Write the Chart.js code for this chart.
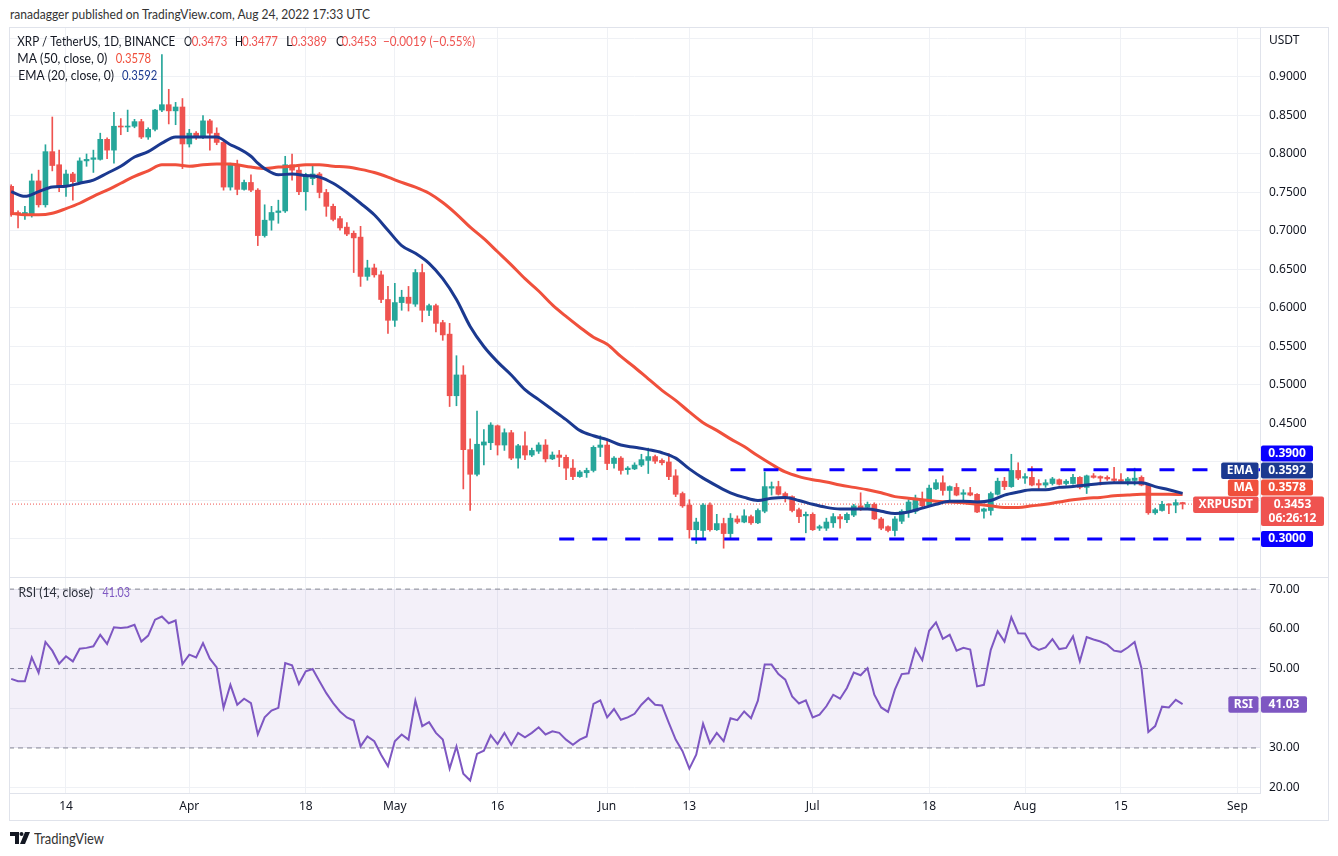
<!DOCTYPE html>
<html>
<head>
<meta charset="utf-8">
<title>XRP / TetherUS, 1D</title>
<script src="https://cdn.jsdelivr.net/npm/chart.js@4.4.1/dist/chart.umd.min.js"></script>
<style>
  html, body { margin: 0; padding: 0; background: #fff; }
  body { width: 1338px; height: 856px; position: relative; overflow: hidden; font-family: Lato, sans-serif; }
  .header { position: absolute; left: 10px; top: 6px; font-size: 13px; color: #333; white-space: nowrap; transform-origin: 0 0; }
  .pane { position: absolute; left: 9px; width: 1319px; }
  #pricePane { top: 27px; height: 550px; }
  #rsiPane { top: 577px; height: 243px; }
  .sep { position: absolute; left: 9px; top: 577px; width: 1319px; height: 1px; background: #e0e3eb; }
  .frame { position: absolute; left: 9px; top: 27px; width: 1320px; height: 794px; border: 1px solid #e0e3eb; box-sizing: border-box; pointer-events: none; }
  .brand { position: absolute; left: 10px; top: 829px; font-size: 15px; color: #333; display: flex; align-items: center; gap: 3px; }
  .brand span { display: inline-block; transform-origin: 0 50%; white-space: nowrap; }
</style>
</head>
<body>
<div class="header" id="header">ranadagger published on TradingView.com, Aug 24, 2022 17:33 UTC</div>
<div class="pane" id="pricePane"><canvas id="priceCanvas"></canvas></div>
<div class="pane" id="rsiPane"><canvas id="rsiCanvas"></canvas></div>
<div class="sep"></div>
<div class="frame"></div>
<div class="brand">
  <svg width="21" height="12" viewBox="0 0 21 12"><path d="M0 0h9v12h-4v-8h-5z" fill="#131722"/><circle cx="11.5" cy="2" r="2" fill="#131722"/><path d="M15 0h5l-5 12h-5z" fill="#131722"/></svg>
  <span id="brandText">TradingView</span>
</div>
<script>
// daily candles from 2022-03-06 (index 0) to 2022-08-24 (index 171)
const startDate = '2022-03-06';
const opens = [
  0.758, 0.724, 0.721, 0.721, 0.765, 0.734, 0.803, 0.786, 0.758, 0.774,
  0.764, 0.791, 0.793, 0.793, 0.819, 0.805, 0.836, 0.835, 0.836, 0.842,
  0.822, 0.832, 0.857, 0.864, 0.856, 0.861, 0.813, 0.827, 0.822, 0.843,
  0.827, 0.815, 0.757, 0.786, 0.754, 0.763, 0.753, 0.694, 0.714, 0.724,
  0.726, 0.786, 0.779, 0.751, 0.768, 0.774, 0.750, 0.732, 0.716, 0.705,
  0.697, 0.692, 0.641, 0.652, 0.643, 0.611, 0.584, 0.607, 0.614, 0.605,
  0.646, 0.597, 0.603, 0.581, 0.566, 0.486, 0.513, 0.416, 0.384, 0.422,
  0.425, 0.447, 0.422, 0.438, 0.405, 0.421, 0.409, 0.414, 0.422, 0.404,
  0.409, 0.406, 0.392, 0.381, 0.386, 0.389, 0.419, 0.422, 0.398, 0.405,
  0.390, 0.391, 0.396, 0.402, 0.407, 0.402, 0.400, 0.382, 0.359, 0.344,
  0.312, 0.311, 0.344, 0.312, 0.320, 0.307, 0.326, 0.322, 0.329, 0.321,
  0.336, 0.366, 0.368, 0.359, 0.355, 0.338, 0.330, 0.332, 0.314, 0.314,
  0.321, 0.329, 0.325, 0.331, 0.343, 0.341, 0.345, 0.326, 0.316, 0.311,
  0.323, 0.335, 0.336, 0.351, 0.344, 0.365, 0.373, 0.363, 0.367, 0.358,
  0.360, 0.358, 0.336, 0.337, 0.358, 0.375, 0.368, 0.389, 0.379, 0.380,
  0.372, 0.370, 0.372, 0.377, 0.372, 0.372, 0.380, 0.367, 0.382, 0.381,
  0.380, 0.378, 0.377, 0.375, 0.376, 0.380, 0.370, 0.334, 0.337, 0.345,
  0.344, 0.3473
];
const highs = [
  0.760, 0.726, 0.732, 0.774, 0.779, 0.812, 0.848, 0.805, 0.779, 0.776,
  0.795, 0.800, 0.805, 0.827, 0.821, 0.854, 0.846, 0.857, 0.845, 0.845,
  0.834, 0.858, 0.929, 0.884, 0.867, 0.872, 0.832, 0.829, 0.850, 0.845,
  0.834, 0.817, 0.788, 0.792, 0.766, 0.773, 0.755, 0.734, 0.732, 0.740,
  0.797, 0.800, 0.783, 0.775, 0.786, 0.776, 0.754, 0.735, 0.719, 0.711,
  0.700, 0.706, 0.662, 0.657, 0.648, 0.628, 0.632, 0.623, 0.628, 0.650,
  0.657, 0.605, 0.605, 0.584, 0.580, 0.538, 0.525, 0.430, 0.466, 0.442,
  0.451, 0.448, 0.443, 0.441, 0.423, 0.439, 0.418, 0.425, 0.429, 0.413,
  0.415, 0.409, 0.403, 0.389, 0.392, 0.421, 0.434, 0.428, 0.407, 0.407,
  0.394, 0.399, 0.410, 0.418, 0.409, 0.404, 0.411, 0.390, 0.361, 0.351,
  0.327, 0.346, 0.347, 0.332, 0.327, 0.333, 0.330, 0.338, 0.331, 0.339,
  0.387, 0.374, 0.375, 0.361, 0.356, 0.340, 0.335, 0.334, 0.318, 0.327,
  0.333, 0.332, 0.334, 0.345, 0.360, 0.348, 0.347, 0.328, 0.317, 0.329,
  0.338, 0.351, 0.357, 0.361, 0.370, 0.377, 0.382, 0.369, 0.372, 0.364,
  0.367, 0.359, 0.340, 0.361, 0.379, 0.380, 0.410, 0.399, 0.385, 0.394,
  0.377, 0.377, 0.380, 0.378, 0.377, 0.384, 0.381, 0.383, 0.385, 0.382,
  0.382, 0.393, 0.385, 0.380, 0.392, 0.382, 0.371, 0.340, 0.349, 0.346,
  0.351, 0.3477
];
const lows = [
  0.719, 0.704, 0.715, 0.718, 0.731, 0.731, 0.778, 0.751, 0.745, 0.740,
  0.762, 0.784, 0.776, 0.792, 0.794, 0.788, 0.825, 0.829, 0.834, 0.820,
  0.819, 0.830, 0.855, 0.839, 0.838, 0.781, 0.809, 0.819, 0.820, 0.805,
  0.812, 0.753, 0.753, 0.747, 0.753, 0.751, 0.681, 0.692, 0.701, 0.710,
  0.724, 0.766, 0.747, 0.727, 0.760, 0.743, 0.719, 0.713, 0.701, 0.694,
  0.646, 0.628, 0.636, 0.640, 0.607, 0.567, 0.576, 0.597, 0.596, 0.602,
  0.582, 0.590, 0.569, 0.558, 0.472, 0.473, 0.365, 0.337, 0.382, 0.396,
  0.416, 0.409, 0.415, 0.403, 0.392, 0.403, 0.407, 0.411, 0.400, 0.403,
  0.394, 0.377, 0.377, 0.380, 0.380, 0.387, 0.407, 0.390, 0.392, 0.384,
  0.384, 0.390, 0.394, 0.385, 0.398, 0.396, 0.377, 0.355, 0.341, 0.301,
  0.294, 0.300, 0.310, 0.311, 0.288, 0.301, 0.320, 0.321, 0.319, 0.320,
  0.334, 0.357, 0.357, 0.348, 0.335, 0.321, 0.308, 0.311, 0.311, 0.311,
  0.315, 0.314, 0.321, 0.329, 0.337, 0.340, 0.325, 0.312, 0.309, 0.304,
  0.320, 0.328, 0.333, 0.342, 0.343, 0.364, 0.357, 0.351, 0.356, 0.351,
  0.356, 0.334, 0.327, 0.331, 0.357, 0.364, 0.367, 0.377, 0.372, 0.369,
  0.365, 0.367, 0.370, 0.370, 0.370, 0.371, 0.365, 0.359, 0.379, 0.370,
  0.376, 0.374, 0.373, 0.370, 0.370, 0.369, 0.332, 0.332, 0.336, 0.333,
  0.334, 0.3389
];
const closes = [
  0.721, 0.721, 0.724, 0.765, 0.734, 0.803, 0.785, 0.758, 0.774, 0.764,
  0.791, 0.793, 0.795, 0.819, 0.805, 0.836, 0.835, 0.836, 0.842, 0.822,
  0.832, 0.857, 0.864, 0.856, 0.861, 0.813, 0.827, 0.822, 0.843, 0.827,
  0.815, 0.757, 0.786, 0.754, 0.763, 0.753, 0.694, 0.714, 0.724, 0.726,
  0.786, 0.779, 0.751, 0.773, 0.774, 0.750, 0.732, 0.715, 0.704, 0.696,
  0.691, 0.641, 0.652, 0.643, 0.611, 0.584, 0.607, 0.614, 0.606, 0.646,
  0.597, 0.603, 0.580, 0.565, 0.486, 0.513, 0.416, 0.384, 0.423, 0.426,
  0.448, 0.422, 0.438, 0.405, 0.421, 0.409, 0.415, 0.422, 0.404, 0.409,
  0.406, 0.392, 0.381, 0.387, 0.389, 0.419, 0.422, 0.398, 0.405, 0.389,
  0.392, 0.396, 0.403, 0.407, 0.401, 0.399, 0.381, 0.358, 0.343, 0.312,
  0.322, 0.344, 0.312, 0.320, 0.307, 0.327, 0.322, 0.330, 0.321, 0.337,
  0.368, 0.368, 0.358, 0.353, 0.337, 0.329, 0.332, 0.312, 0.316, 0.322,
  0.329, 0.326, 0.332, 0.343, 0.339, 0.345, 0.326, 0.314, 0.311, 0.326,
  0.336, 0.348, 0.353, 0.343, 0.366, 0.373, 0.363, 0.368, 0.357, 0.360,
  0.357, 0.335, 0.339, 0.359, 0.375, 0.368, 0.389, 0.379, 0.381, 0.370,
  0.370, 0.373, 0.378, 0.371, 0.375, 0.380, 0.367, 0.382, 0.380, 0.379,
  0.378, 0.376, 0.375, 0.378, 0.379, 0.370, 0.334, 0.338, 0.345, 0.344,
  0.3472, 0.3453
];

// MA(50) and EMA(20) at these day indices
const maDays = [0, 2, 4, 6, 8, 10, 12, 14, 16, 18, 20, 22, 24, 26, 28, 30, 32,
  33, 35, 37, 39, 41, 43, 45, 47, 49, 51, 53, 55, 57, 59, 61, 63, 65, 67, 69, 71, 73, 75, 77, 79,
  81, 83, 85, 87, 89, 91, 93, 95, 97, 99, 101, 103, 105, 107, 109, 111, 113, 115, 117, 119, 121,
  123, 125, 127, 129, 131, 133, 135, 137, 139, 141, 143, 145, 147, 149, 151, 153, 155, 157, 159,
  161, 163, 165, 167, 169, 171];
const maValues = [0.723, 0.721, 0.721, 0.723, 0.729, 0.736, 0.745, 0.753, 0.762, 0.771, 0.778, 0.786, 0.786, 0.784, 0.786, 0.787, 0.787,
  0.786, 0.783, 0.781, 0.783, 0.784, 0.786, 0.786, 0.784, 0.783, 0.780, 0.776, 0.770, 0.763, 0.757, 0.749, 0.737, 0.722, 0.705, 0.690, 0.673, 0.656, 0.638, 0.622, 0.604,
  0.589, 0.575, 0.562, 0.553, 0.537, 0.523, 0.508, 0.493, 0.480, 0.465, 0.451, 0.441, 0.430, 0.420, 0.408, 0.397, 0.387, 0.381, 0.377, 0.374, 0.370,
  0.367, 0.364, 0.360, 0.355, 0.353, 0.351, 0.349, 0.348, 0.347, 0.345, 0.343, 0.341, 0.341, 0.343, 0.345, 0.348, 0.351, 0.353, 0.354,
  0.356, 0.357, 0.358, 0.358, 0.358, 0.3578];
const emaDays = [0, 2, 4, 6, 8, 10, 12, 14, 16, 18, 20, 22, 24, 26, 28, 30, 32,
  33, 35, 36, 37, 39, 41, 43, 45, 47, 49, 51, 53, 55, 57, 59, 61, 63, 65, 67, 69, 71, 73, 75, 77, 79,
  81, 83, 85, 87, 89, 91, 93, 95, 97, 99, 101, 103, 105, 107, 109, 111, 113, 115, 117, 119, 121,
  123, 125, 127, 129, 131, 133, 135, 137, 139, 141, 143, 145, 147, 149, 151, 153, 155, 157, 159,
  161, 163, 165, 167, 169, 171];
const emaValues = [0.751, 0.745, 0.751, 0.757, 0.758, 0.762, 0.766, 0.775, 0.784, 0.796, 0.803, 0.814, 0.822, 0.822, 0.822, 0.822, 0.812,
  0.808, 0.797, 0.788, 0.781, 0.773, 0.774, 0.772, 0.770, 0.762, 0.750, 0.736, 0.721, 0.701, 0.681, 0.671, 0.658, 0.638, 0.611, 0.576, 0.550, 0.530, 0.513, 0.494, 0.481, 0.468,
  0.455, 0.441, 0.434, 0.429, 0.422, 0.419, 0.416, 0.412, 0.405, 0.391, 0.379, 0.369, 0.360, 0.354, 0.350, 0.353, 0.354, 0.350, 0.345, 0.341, 0.339,
  0.339, 0.339, 0.336, 0.333, 0.335, 0.340, 0.345, 0.349, 0.349, 0.348, 0.350, 0.357, 0.361, 0.364, 0.364, 0.367, 0.368, 0.370, 0.372,
  0.373, 0.373, 0.373, 0.368, 0.364, 0.3592];

// RSI(14), one value per candle
const rsiValues = [
  47.4, 46.8, 46.8, 52.8, 48.9, 56.7, 54.5, 51.2, 53.1, 51.8,
  55.0, 55.2, 55.6, 58.5, 56.2, 60.4, 60.2, 60.4, 61.0, 56.8,
  58.3, 62.3, 63.1, 61.4, 62.1, 51.1, 53.5, 52.8, 56.4, 52.5,
  50.3, 40.1, 45.9, 40.9, 42.4, 41.3, 33.4, 37.7, 39.4, 40.1,
  51.4, 50.8, 46.1, 49.3, 49.9, 46.8, 43.8, 41.3, 39.2, 37.7,
  36.9, 30.4, 32.9, 31.7, 28.3, 25.4, 31.7, 33.4, 32.1, 41.9,
  35.5, 36.5, 33.8, 32.1, 24.8, 30.4, 23.5, 21.8, 28.5, 29.3,
  33.2, 31.0, 33.8, 30.8, 33.8, 32.7, 33.8, 35.2, 33.4, 34.2,
  33.8, 32.1, 30.8, 32.1, 32.9, 41.1, 42.0, 37.7, 39.8, 37.1,
  37.7, 38.6, 40.9, 42.6, 40.9, 40.7, 36.3, 32.1, 29.2, 24.8,
  28.3, 36.1, 31.2, 33.8, 31.7, 37.5, 37.0, 39.2, 37.5, 41.9,
  51.0, 51.0, 48.6, 47.2, 43.0, 41.2, 42.0, 37.7, 38.4, 40.5,
  43.4, 42.4, 45.1, 49.0, 48.3, 50.1, 43.4, 40.2, 39.1, 44.7,
  48.6, 48.8, 55.0, 52.1, 59.5, 61.6, 57.5, 58.5, 54.5, 55.2,
  54.8, 45.5, 45.9, 54.7, 59.4, 56.8, 62.9, 58.9, 58.8, 55.7,
  54.7, 55.3, 57.4, 54.9, 55.2, 58.1, 51.8, 57.9, 57.3, 56.8,
  56.0, 54.5, 54.2, 55.3, 56.7, 50.1, 34.0, 35.5, 40.4, 40.2,
  42.1, 41.03
];

// horizontal levels drawn on the chart, and the day each one starts
const levelValues = [0.39, 0.30];
const levelFrom = [105, 80];
const rsiBands = [70, 50, 30];

const tickDays = [8, 26, 43, 56, 71, 87, 99, 117, 134, 148, 162, 179];
const tickLabels = ['14', 'Apr', '18', 'May', '16', 'Jun', '13', 'Jul', '18', 'Aug', '15', 'Sep'];
const priceTicks = [0.30, 0.35, 0.40, 0.45, 0.50, 0.55, 0.60, 0.65, 0.70, 0.75, 0.80, 0.85, 0.90, 0.95];
const rsiTicks = [20, 30, 40, 50, 60, 70];

// view window
const X_MIN = -0.32, X_MAX = 182.3;
const PRICE_MIN = 0.2506, PRICE_MAX = 0.9649;
const RSI_MIN = 18.66, RSI_MAX = 73.05;

const FONT = '"Noto Sans", sans-serif';
const UI_FONT = 'Lato, sans-serif';
const TEXT = '#131722';
const GRID = '#eff1f5';
const AXIS = '#e0e3eb';
const UP = '#26a69a';
const DOWN = '#ef5350';
const MA_COLOR = '#f0503c';
const EMA_COLOR = '#1b3990';
const LEVEL_COLOR = '#0a00ff';
const RSI_COLOR = '#7e57c2';

const lastClose = closes[closes.length - 1];
const candleColors = opens.map((o, i) => closes[i] >= o ? UP : DOWN);

function fmt4(v) { return v.toFixed(4); }

// squeeze an html text element to a given width (the platform font is narrower than ours)
function fitWidth(el, target) {
    const w = el.getBoundingClientRect().width;
    if (w > target) el.style.transform = 'scaleX(' + (target / w) + ')';
}
fitWidth(document.getElementById('header'), 360);
fitWidth(document.getElementById('brandText'), 70);

function drawBox(ctx, x, y, w, h, color) {
    ctx.fillStyle = color;
    ctx.beginPath();
    ctx.roundRect(x, y, w, h, 2);
    ctx.fill();
}

// each run: [text, colour, x, width]; text is squeezed into the width when wider
function drawRuns(ctx, runs, y) {
    runs.forEach(r => {
        ctx.fillStyle = r[1];
        const w = ctx.measureText(r[0]).width;
        if (w > r[3]) ctx.fillText(r[0], r[2], y, r[3]);
        else ctx.fillText(r[0], r[2], y);
    });
}

// legend text and the price labels on the right axis
const priceOverlay = {
    id: 'priceOverlay',
    afterDraw(chart) {
        const { ctx, chartArea, scales } = chart;
        ctx.save();
        ctx.textBaseline = 'middle';
        ctx.textAlign = 'left';
        ctx.font = '13px ' + UI_FONT;
        const n = closes.length;
        const chg = lastClose - closes[n - 2];
        const pct = chg / closes[n - 2] * 100;
        const minus = s => s.replace('-', '\u2212');
        // page x minus 9 gives canvas x
        drawRuns(ctx, [
            ['XRP / TetherUS, 1D, BINANCE', TEXT, 8.3, 158],
            ['O', TEXT, 175, 8], [fmt4(opens[n - 1]), DOWN, 182.7, 35.6],
            ['H', TEXT, 226, 8], [fmt4(highs[n - 1]), DOWN, 233, 36],
            ['L', TEXT, 277, 7], [fmt4(lows[n - 1]), DOWN, 282, 36],
            ['C', TEXT, 327, 8], [fmt4(lastClose), DOWN, 332.7, 35],
            [minus(chg.toFixed(4)) + ' (' + minus(pct.toFixed(2)) + '%)', DOWN, 374, 92]
        ], 15);
        drawRuns(ctx, [['MA (50, close, 0)', TEXT, 8.3, 90], [fmt4(maValues[maValues.length - 1]), MA_COLOR, 106.7, 35.3]], 32);
        drawRuns(ctx, [['EMA (20, close, 0)', TEXT, 9.3, 95.7], [fmt4(emaValues[emaValues.length - 1]), EMA_COLOR, 113, 35.3]], 49);

        ctx.font = '12px ' + FONT;
        ctx.fillStyle = TEXT;
        ctx.fillText('USDT', chartArea.right + 9, 14);

        const y = scales.y;
        const items = [
            { value: levelValues[0], color: LEVEL_COLOR },
            { value: emaValues[emaValues.length - 1], color: EMA_COLOR, tag: 'EMA' },
            { value: maValues[maValues.length - 1], color: MA_COLOR, tag: 'MA' },
            { value: lastClose, color: DOWN, tag: 'XRPUSDT', sub: '06:26:12', fixed: true },
            { value: levelValues[1], color: LEVEL_COLOR }
        ];
        items.forEach(it => {
            const cy = y.getPixelForValue(it.value);
            it.h = it.sub ? 29.5 : 16;
            it.top = it.sub ? cy - 7.5 : cy - 8;
        });
        // push labels apart like the platform does
        const fi = items.findIndex(it => it.fixed);
        for (let i = fi - 1; i >= 0; i--) {
            const lim = items[i + 1].top - 1;
            if (items[i].top + items[i].h > lim) items[i].top = lim - items[i].h;
        }
        for (let i = fi + 1; i < items.length; i++) {
            const lim = items[i - 1].top + items[i - 1].h + 1;
            if (items[i].top < lim) items[i].top = lim;
        }
        ctx.font = 'bold 12px ' + FONT;
        const bx = chartArea.right + 1;
        items.forEach(it => {
            const w = it.sub ? 63 : 52;
            drawBox(ctx, bx, it.top, w, it.h, it.color);
            ctx.fillStyle = '#fff';
            ctx.textAlign = 'center';
            ctx.fillText(fmt4(it.value), bx + w / 2, it.top + 8);
            if (it.sub) ctx.fillText(it.sub, bx + w / 2, it.top + 22);
            if (it.tag) {
                const tw = ctx.measureText(it.tag).width + 11;
                drawBox(ctx, chartArea.right - 1.5 - tw, it.top, tw, 16.5, it.color);
                ctx.fillStyle = '#fff';
                ctx.fillText(it.tag, chartArea.right - 1.5 - tw / 2, it.top + 8.3);
            }
        });
        ctx.restore();
    }
};

const rsiOverlay = {
    id: 'rsiOverlay',
    afterDraw(chart) {
        const { ctx, chartArea, scales } = chart;
        const last = rsiValues[rsiValues.length - 1];
        ctx.save();
        ctx.textBaseline = 'middle';
        ctx.textAlign = 'left';
        ctx.font = '13px ' + UI_FONT;
        drawRuns(ctx, [['RSI (14, close)', '#2a2e39', 9.4, 74.6], [last.toFixed(2), RSI_COLOR, 93.6, 27.4]], 16);
        const cy = scales.y.getPixelForValue(last);
        ctx.font = 'bold 12px ' + FONT;
        const bx = chartArea.right + 1;
        drawBox(ctx, bx, cy - 8, 46, 16.5, RSI_COLOR);
        const tw = ctx.measureText('RSI').width + 11;
        drawBox(ctx, chartArea.right - 1.5 - tw, cy - 8, tw, 16.5, RSI_COLOR);
        ctx.fillStyle = '#fff';
        ctx.textAlign = 'center';
        ctx.fillText(last.toFixed(2), bx + 23, cy + 0.3);
        ctx.fillText('RSI', chartArea.right - 1.5 - tw / 2, cy + 0.3);
        ctx.restore();
    }
};

// Chart.js adds tick padding above/below a vertical axis; the panes here run edge to edge
function fitRight(s) { s.width = 68; s.paddingTop = 0; s.paddingBottom = 0; }

const xScaleBase = {
    type: 'linear',
    min: X_MIN,
    max: X_MAX,
    offset: false,
    afterBuildTicks: s => { s.ticks = tickDays.map(v => ({ value: v })); },
    grid: { color: GRID, drawTicks: false, offset: false }
};

const levelSets = levelValues.map((v, i) => ({
    type: 'line',
    label: 'level ' + v,
    data: [{ x: levelFrom[i], y: v }, { x: X_MAX, y: v }],
    borderColor: LEVEL_COLOR,
    borderWidth: 3,
    borderDash: [15, 18],
    pointRadius: 0,
    order: 0
}));

new Chart(document.getElementById('priceCanvas'), {
    type: 'bar',
    data: {
        datasets: [
            ...levelSets,
            {
                type: 'line', label: 'EMA 20',
                data: emaDays.map((d, i) => ({ x: d, y: emaValues[i] })),
                borderColor: EMA_COLOR, borderWidth: 3, pointRadius: 0,
                cubicInterpolationMode: 'monotone', order: 0
            },
            {
                type: 'line', label: 'MA 50',
                data: maDays.map((d, i) => ({ x: d, y: maValues[i] })),
                borderColor: MA_COLOR, borderWidth: 3, pointRadius: 0,
                cubicInterpolationMode: 'monotone', order: 0
            },
            {
                label: 'body',
                data: opens.map((o, i) => ({ x: i, y: [o, closes[i]] })),
                backgroundColor: candleColors,
                barThickness: 5, minBarLength: 1, grouped: false, order: 1
            },
            {
                label: 'wick',
                data: lows.map((l, i) => ({ x: i, y: [l, highs[i]] })),
                backgroundColor: candleColors,
                barThickness: 1, grouped: false, order: 2
            },
            {
                type: 'line', label: 'last price',
                data: [{ x: X_MIN, y: lastClose }, { x: X_MAX, y: lastClose }],
                borderColor: DOWN, borderWidth: 1, borderDash: [1, 2], pointRadius: 0, order: 3
            }
        ]
    },
    options: {
        responsive: true,
        maintainAspectRatio: false,
        animation: false,
        layout: { padding: 0, autoPadding: false },
        plugins: { legend: { display: false }, tooltip: { enabled: false } },
        scales: {
            x: Object.assign({}, xScaleBase, {
                afterFit: s => { s.height = 0; s.paddingLeft = 0; s.paddingRight = 0; },
                ticks: { display: false },
                border: { display: false }
            }),
            y: {
                position: 'right',
                min: PRICE_MIN,
                max: PRICE_MAX,
                afterFit: fitRight,
                afterBuildTicks: s => { s.ticks = priceTicks.map(v => ({ value: v })); },
                ticks: {
                    padding: 9, color: TEXT, font: { family: FONT, size: 12 },
                    callback: v => (v > 0.44 && v < 0.91) ? fmt4(v) : ''
                },
                grid: { color: GRID, drawTicks: false },
                border: { color: AXIS }
            }
        }
    },
    plugins: [priceOverlay]
});

new Chart(document.getElementById('rsiCanvas'), {
    type: 'line',
    data: {
        datasets: [
            {
                label: 'RSI',
                data: rsiValues.map((v, i) => ({ x: i, y: v })),
                borderColor: RSI_COLOR, borderWidth: 2, pointRadius: 0, tension: 0, order: 0
            },
            ...rsiBands.map((b, i) => ({
                label: 'band ' + b,
                data: [{ x: X_MIN, y: b }, { x: X_MAX, y: b }],
                borderColor: '#868993', borderWidth: 1, borderDash: [5, 4], pointRadius: 0,
                fill: i === 0 ? { value: rsiBands[rsiBands.length - 1] } : false,
                backgroundColor: 'rgba(126, 87, 194, 0.09)',
                order: 1
            }))
        ]
    },
    options: {
        responsive: true,
        maintainAspectRatio: false,
        animation: false,
        layout: { padding: 0, autoPadding: false },
        plugins: { legend: { display: false }, tooltip: { enabled: false } },
        scales: {
            x: Object.assign({}, xScaleBase, {
                afterFit: s => { s.height = 27; s.paddingLeft = 0; s.paddingRight = 0; },
                ticks: {
                    padding: 6, color: TEXT, font: { family: FONT, size: 12 },
                    maxRotation: 0, autoSkip: false,
                    callback: v => tickLabels[tickDays.indexOf(v)]
                },
                border: { color: AXIS }
            }),
            y: {
                position: 'right',
                min: RSI_MIN,
                max: RSI_MAX,
                afterFit: fitRight,
                afterBuildTicks: s => { s.ticks = rsiTicks.map(v => ({ value: v })); },
                ticks: {
                    padding: 9, color: TEXT, font: { family: FONT, size: 12 },
                    callback: v => v === 40 ? '' : v.toFixed(2)
                },
                grid: { color: GRID, drawTicks: false },
                border: { color: AXIS }
            }
        }
    },
    plugins: [rsiOverlay]
});
</script>
</body>
</html>
